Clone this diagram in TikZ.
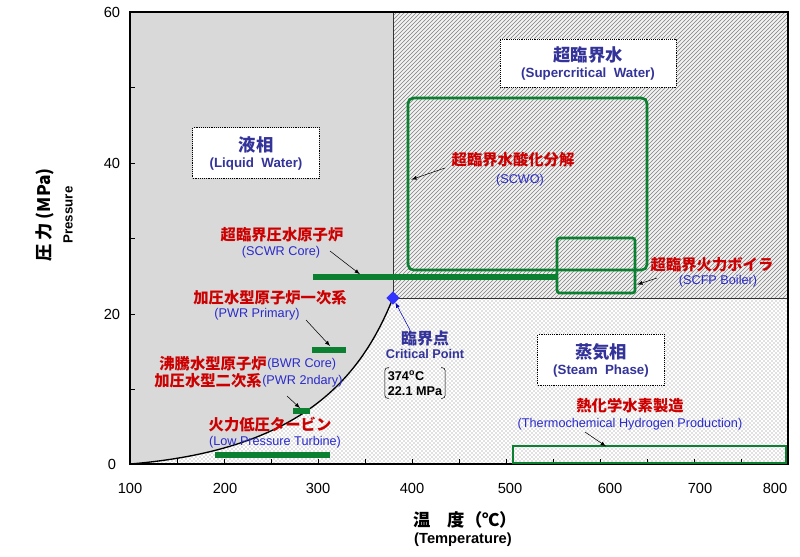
\documentclass[tikz,border=0pt]{standalone}
\usepackage{fontspec}
\setmainfont{Liberation Sans}
\newfontfamily\cjk{Noto Sans CJK JP}
\usetikzlibrary{patterns,positioning,shapes.geometric}
\definecolor{lblred}{HTML}{CC0000}
\definecolor{lblblue}{HTML}{2A2ACC}
\definecolor{phase}{HTML}{333399}
\definecolor{usegreen}{HTML}{0A8030}
\tikzset{
  jp/.style={font=\cjk\bfseries\fontsize{11.5}{12}\selectfont, text=lblred, inner sep=0pt},
  en/.style={font=\fontsize{9.5}{10}\selectfont, text=lblblue, inner sep=0pt},
  phasebox/.style={draw, densely dotted, fill=white, align=center, text=phase,
    minimum width=95pt, minimum height=38pt, font=\bfseries},
  use/.style={usegreen, line width=4pt},
  userect/.style={usegreen, line width=2pt, rounded corners=4pt},
  pt/.style={-latex, black, shorten >=1pt},
  tick/.style={font=\fontsize{11}{12}\selectfont, inner sep=0pt}
}
\begin{document}
\begin{tikzpicture}[x=0.75pt,y=-0.75pt]
\useasboundingbox (0,0) rectangle (800,557);
% regions
\fill[gray!30] (130,12) rectangle (393,464);
\fill[gray!10] (393,12) rectangle (788,298);
\fill[pattern=north east lines, pattern color=gray] (393,12) rectangle (788,298);
\fill[white] (130,464) .. controls (300,450) and (360,380) .. (393,298) -- (788,298) -- (788,464) -- cycle;
\fill[pattern=crosshatch dots, pattern color=gray] (130,464) .. controls (300,450) and (360,380) .. (393,298) -- (788,298) -- (788,464) -- cycle;
\draw[line width=1pt] (130,464) .. controls (300,450) and (360,380) .. (393,298);
\draw[gray!40!black] (393,12) -- (393,298) -- (788,298);
\draw[line width=1.2pt] (130,12) rectangle (788,464);
% ticks
\foreach \x in {177,224,271,318,365,412,459,506,553,600,647,694,741}
  \draw (\x,464) -- (\x,459);
\foreach \y in {87,163,238,314,389}
  \draw (130,\y) -- (135,\y);
\foreach \x/\t in {130/100,225/200,318/300,412/400,510/500,610/600,700/700,775/800}
  \node[tick] at (\x,488) {\t};
\foreach \y/\t in {464/0,314/20,163/40,12/60}
  \node[tick] at (112,\y) {\t};
% axis titles
\node[rotate=90, font=\cjk\bfseries\fontsize{13}{14}\selectfont] (ytitle) at (45,215) {圧 力 (MPa)};
\node[rotate=90, font=\bfseries\fontsize{10}{11}\selectfont] (ysub) at (68,215) {Pressure};
\node[font=\cjk\bfseries\fontsize{13}{14}\selectfont] (xtitle) at (465,520) {温　度（℃）};
\node[font=\bfseries\fontsize{11}{12}\selectfont] (xsub) at (463,540) {(Temperature)};
% phases
\node[phasebox] (liq) at (256,153) {{\cjk\fontsize{13}{14}\selectfont 液相}\\(Liquid\ \ Water)};
\node[phasebox, minimum width=132pt, minimum height=36pt] (scw) at (588,63) {{\cjk\fontsize{13}{14}\selectfont 超臨界水}\\(Supercritical\ \ Water)};
\node[phasebox] (steam) at (601,360) {{\cjk\fontsize{13}{14}\selectfont 蒸気相}\\(Steam\ \ Phase)};
% critical point
\node[diamond, fill=blue!80, inner sep=2.5pt] (cp) at (393,298) {};
\node[jp, text=phase, font=\cjk\bfseries\fontsize{12}{13}\selectfont] (cpjp) at (425,338) {臨界点};
\node[en, text=phase, font=\bfseries\fontsize{9.5}{10}\selectfont] (cpen) at (425,354) {Critical Point};
\node[align=left, font=\bfseries\fontsize{9.5}{11}\selectfont, inner sep=2pt] (cpval) at (415,383) {374\textsuperscript{o}C\\22.1 MPa};
\draw[rounded corners=2pt] ([xshift=3pt]cpval.north west) -| (cpval.south west) -- ++(3pt,0);
\draw[rounded corners=2pt] ([xshift=-3pt]cpval.north east) -| (cpval.south east) -- ++(-3pt,0);
\draw[-latex, blue!70!black] (410,330) -- (cp);
% uses
\draw[userect] (408,98) rectangle (647,270);
\draw[userect, rounded corners=2pt] (557,238) rectangle (635,293);
\draw[use] (313,277) coordinate (scwrA) -- (557,277) coordinate (scwrB);
\draw[use] (312,350) coordinate (pwrA) -- (346,350);
\draw[use] (293,411) coordinate (bwrA) -- (310,411);
\draw[use] (215,455) coordinate (lpA) -- (330,455);
\draw[userect, rounded corners=0pt] (513,446) rectangle (786,463);
% labels
\node[jp] (scwojp) at (513,160) {超臨界水酸化分解};
\node[en] (scwoen) at (520,180) {(SCWO)};
\draw[pt] (445,168) -- (410,180);
\node[jp] (scfpjp) at (712,265) {超臨界火力ボイラ};
\node[en] (scfpen) at (718,281) {(SCFP Boiler)};
\draw[pt] (657,278) -- (636,285);
\node[jp] (scwrjp) at (282,235) {超臨界圧水原子炉};
\node[en] (scwren) at (281,252) {(SCWR Core)};
\draw[pt] (330,251) -- (361,275);
\node[jp] (pwrjp) at (270,298) {加圧水型原子炉一次系};
\node[en] (pwren) at (257,314) {(PWR Primary)};
\draw[pt] (306,320) -- (331,347);
\node[jp, anchor=east] (bwrjp) at (267,364) {沸騰水型原子炉};
\node[en, anchor=west] (bwren) at (bwrjp.east) {(BWR Core)};
\node[jp, anchor=east] (pwr2jp) at (262,381) {加圧水型二次系};
\node[en, anchor=west] (pwr2en) at (pwr2jp.east) {(PWR 2ndary)};
\draw[pt] (287,396) -- (301,409);
\node[jp] (lpjp) at (270,425) {火力低圧タービン};
\node[en] (lpen) at (275,442) {(Low Pressure Turbine)};
\node[jp] (thjp) at (630,406) {熱化学水素製造};
\node[en] (then) at (630,424) {(Thermochemical Hydrogen Production)};
\draw[pt] (585,432) -- (607,447);
\end{tikzpicture}
\end{document}
